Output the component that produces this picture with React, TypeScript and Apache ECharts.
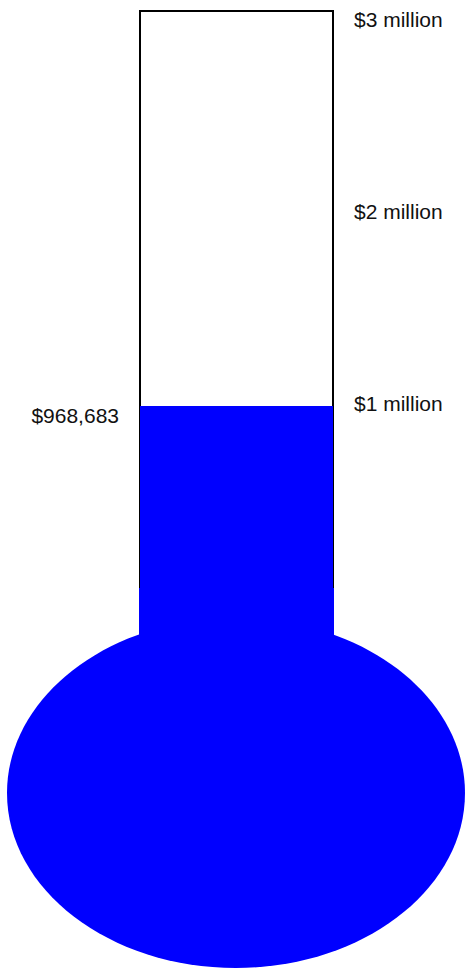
import React, { useEffect, useRef } from 'react';
import * as echarts from 'echarts';

const categories = ['Raised'];
const raisedValues = [968683];
const valueLabels = ['$968,683'];
const tickValues = [1000000, 2000000, 3000000];
const tickLabels = ['$1 million', '$2 million', '$3 million'];
const axisMin = 0;
const axisMax = 3026000;
const axisInterval = 1000000;

const fontFamily = '"Liberation Sans", Arial, Helvetica, sans-serif';

export default function App() {
  const ref = useRef<HTMLDivElement>(null);
  useEffect(() => {
    document.body.style.margin = '0';
    const chart = echarts.init(ref.current as HTMLDivElement, null, { renderer: 'svg' });
    chart.setOption({
      animation: false,
      grid: {
        left: 140,
        right: 134,
        top: 11,
        bottom: 377,
        show: true,
        backgroundColor: '#ffffff',
        borderColor: '#000000',
        borderWidth: 2,
      },
      xAxis: { type: 'category', data: categories, show: false },
      yAxis: {
        type: 'value',
        position: 'right',
        min: axisMin,
        max: axisMax,
        interval: axisInterval,
        axisLine: { show: false },
        axisTick: { show: false },
        splitLine: { show: false },
        axisLabel: {
          margin: 21,
          color: '#111111',
          fontSize: 21,
          fontFamily,
          verticalAlign: 'top',
          lineHeight: 8,
          formatter: (v: number) => {
            const i = tickValues.indexOf(v);
            return i >= 0 ? tickLabels[i] : '';
          },
        },
      },
      series: [
        {
          type: 'bar',
          data: raisedValues,
          barWidth: 195,
          itemStyle: { color: '#0000ff' },
          label: {
            show: true,
            position: [-21, -1],
            align: 'right',
            verticalAlign: 'top',
            color: '#111111',
            fontSize: 21,
            fontFamily,
            formatter: (p: any) => valueLabels[p.dataIndex],
          },
        },
      ],
      graphic: [
        {
          type: 'rect',
          z: 10,
          shape: { x: 139, y: 588, width: 195, height: 60 },
          style: { fill: '#0000ff' },
        },
        {
          type: 'ellipse',
          z: 10,
          shape: { cx: 236, cy: 793, rx: 229, ry: 175 },
          style: { fill: '#0000ff' },
        },
      ],
    });
    return () => chart.dispose();
  }, []);
  return <div ref={ref} style={{ width: 467, height: 969 }} />;
}
